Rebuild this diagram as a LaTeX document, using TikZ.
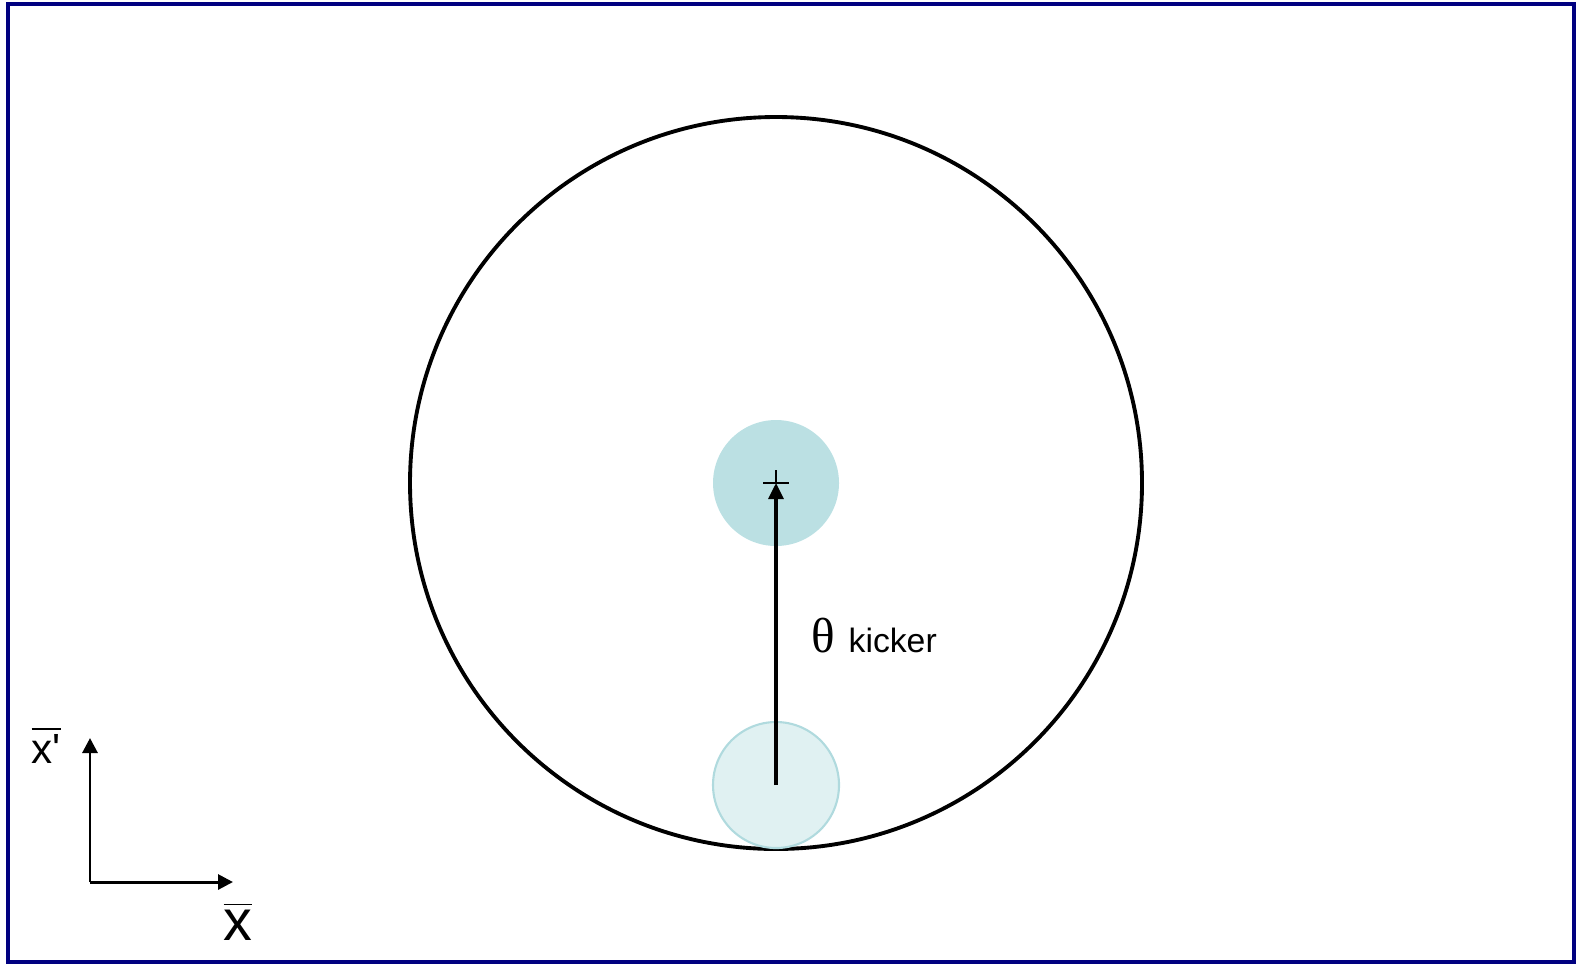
\documentclass[tikz,border=0pt]{standalone}
\usepackage{fontspec}
\setmainfont{Liberation Sans}
\newfontfamily\greekfont{Liberation Serif}
\usepackage{tikz}
\usetikzlibrary{arrows.meta,positioning}
\definecolor{framenavy}{RGB}{0,0,128}
\definecolor{beamdark}{RGB}{187,224,227}
\definecolor{beamlight}{RGB}{224,241,242}
\definecolor{beamedge}{RGB}{176,218,222}
\tikzstyle{ring}=[draw, circle, line width=1.1pt, inner sep=0pt, minimum size=7.32cm]
\tikzstyle{beam}=[circle, inner sep=0pt, minimum size=1.26cm]
\tikzstyle{kick}=[draw, line width=0.9pt, -{Triangle[length=1.6mm,width=1.5mm]}]
\tikzstyle{axis}=[draw, line width=0.85pt, -{Triangle[length=1.5mm,width=1.5mm]}]
\newcommand{\barx}[2]{$\overline{\hbox{\fontsize{#1}{#1}\selectfont #2}}$}

\begin{document}
\begin{tikzpicture}[x=0.1mm,y=-0.1mm]
	\useasboundingbox (0,0) rectangle (1576,963);
	% frame
	\draw[framenavy, line width=1.15pt] (8,4) rectangle (1574,962);

	% acceptance and beams
	\node (acc)[ring] at (776,483) {};
	\node (kicked)[beam, fill=beamdark] at (776,483) {};
	\node (injected)[beam, fill=beamlight, draw=beamedge, line width=0.6pt] at (776,785) {};

	% centre mark and kick
	\draw[line width=0.65pt] (kicked.center) +(-13,0) -- +(13,0);
	\draw[line width=0.65pt] (kicked.center) +(0,-13) -- +(0,0);
	\path [kick] (injected.center) -- (kicked.center);
	\node (kicklabel)[anchor=base west, inner sep=0pt] at (811,652)
		{{\greekfont\fontsize{14}{14}\selectfont θ}\hspace{3.8pt}{\fontsize{9.6}{12}\selectfont kicker}};

	% phase space axes
	\coordinate (origin) at (90,882);
	\coordinate (xend) at (233,882);
	\coordinate (pend) at (90,738);
	\path [axis] (origin) -- (xend);
	\path [axis] (origin) -- (pend);
	\node (xlabel)[anchor=base, inner sep=0pt] at (238,940) {\barx{16.4}{x}};
	\node (plabel)[anchor=base west, inner sep=0pt] at (31,763) {\barx{12}{x\textquotesingle}};
\end{tikzpicture}
\end{document}
